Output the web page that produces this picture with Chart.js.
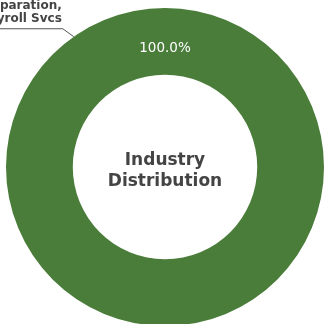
<!DOCTYPE html>
<html>
<head>
<meta charset="utf-8">
<script src="https://cdn.jsdelivr.net/npm/chart.js@4.4.1/dist/chart.umd.min.js"></script>
<style>
  html, body { margin: 0; padding: 0; background: #ffffff; overflow: hidden; }
  #wrap { position: relative; width: 325px; height: 330px; }
</style>
</head>
<body>
<div id="wrap"><canvas id="chart"></canvas></div>
<script>
// Industry share of the sample
const categories = ['Tax Preparation, Payroll Svcs'];
const categoryLines = [['Tax Preparation,', 'Payroll Svcs']];
const shares = [100.0];
const sliceColors = ['#4b7d3a'];
const centerTitle = ['Industry', 'Distribution'];

const FONT = '"DejaVu Sans", sans-serif';

const ringLabels = {
  id: 'ringLabels',
  afterDatasetsDraw(chart) {
    const ctx = chart.ctx;
    const meta = chart.getDatasetMeta(0);
    const total = shares.reduce((a, b) => a + b, 0);
    meta.data.forEach((arc, i) => {
      const p = arc.getProps(['x', 'y', 'startAngle', 'endAngle', 'innerRadius', 'outerRadius'], true);
      const midR = (p.innerRadius + p.outerRadius) / 2;
      // percentage near the start of the slice
      const pct = (shares[i] / total * 100).toFixed(1) + '%';
      ctx.save();
      ctx.fillStyle = '#ffffff';
      ctx.font = '13.5px ' + FONT;
      ctx.textAlign = 'center';
      ctx.textBaseline = 'middle';
      const a0 = p.startAngle;
      ctx.fillText(pct, p.x + Math.cos(a0) * (midR - 6), p.y + Math.sin(a0) * (midR - 6) + 1);
      ctx.restore();

      // callout with category name
      const la = -125 * Math.PI / 180;
      const sx = p.x + Math.cos(la) * p.outerRadius;
      const sy = p.y + Math.sin(la) * p.outerRadius;
      const ex = sx - 11, ey = sy - 8;
      ctx.save();
      ctx.strokeStyle = '#555555';
      ctx.lineWidth = 1;
      ctx.beginPath();
      ctx.moveTo(sx, sy);
      ctx.lineTo(ex, ey);
      ctx.lineTo(ex - 120, ey);
      ctx.stroke();
      ctx.fillStyle = '#444444';
      ctx.font = 'bold 12px ' + FONT;
      ctx.textAlign = 'right';
      ctx.textBaseline = 'alphabetic';
      const lines = categoryLines[i];
      lines.forEach((t, k) => {
        ctx.fillText(t, ex - 1, ey - 7 - (lines.length - 1 - k) * 13);
      });
      ctx.restore();
    });

    // title in the hole
    const c = meta.data[0];
    ctx.save();
    ctx.fillStyle = '#444444';
    ctx.font = 'bold 17px ' + FONT;
    ctx.textAlign = 'center';
    ctx.textBaseline = 'alphabetic';
    ctx.fillText(centerTitle[0], c.x, c.y - 2);
    ctx.fillText(centerTitle[1], c.x, c.y + 19);
    ctx.restore();
  }
};

new Chart(document.getElementById('chart'), {
  type: 'doughnut',
  data: {
    labels: categories,
    datasets: [{
      data: shares,
      backgroundColor: sliceColors,
      borderWidth: 0
    }]
  },
  options: {
    responsive: true,
    maintainAspectRatio: false,
    animation: false,
    cutout: '58%',
    layout: { padding: { left: 6, top: 8, right: 1, bottom: 4 } },
    plugins: {
      legend: { display: false },
      tooltip: { enabled: false }
    }
  },
  plugins: [ringLabels]
});
</script>
</body>
</html>
